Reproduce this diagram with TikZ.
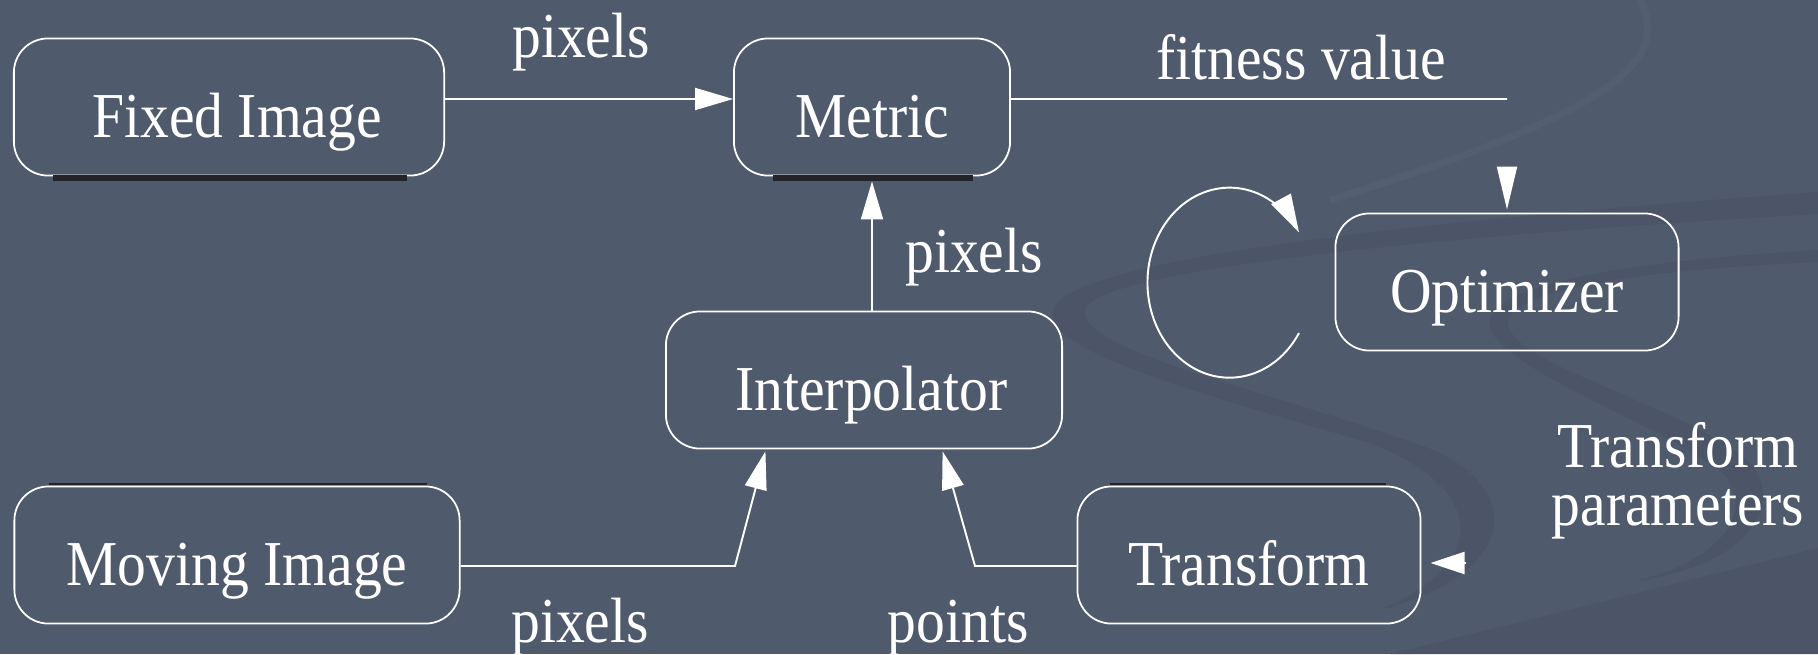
\documentclass[tikz,border=0pt]{standalone}
\usepackage{fontspec}
\setmainfont{Liberation Serif}
\usetikzlibrary{arrows.meta,calc}
\definecolor{bg}{RGB}{80,90,109}
\definecolor{swirldark}{RGB}{76,85,104}
\definecolor{swirllight}{RGB}{84,94,113}
\definecolor{edgedark}{RGB}{35,36,40}
\newcommand\figfont{\fontsize{18.2}{16.4}\selectfont}
\newcommand\narrow[1]{\scalebox{0.9}[1]{#1}}

\begin{document}
\begin{tikzpicture}[x=0.01cm,y=-0.01cm,
  box/.style={draw=white, line width=0.5pt, rounded corners=0.34cm,
    minimum height=1.37cm, inner sep=0pt, text=white,
    text height=0.6cm, text depth=0cm, font=\figfont},
  lbl/.style={text=white, font=\figfont, inner sep=0pt},
  conn/.style={draw=white, line width=0.55pt},
  arr/.style={conn, -{Triangle[length=0.38cm,width=0.22cm]}},
  edgeshade/.style={draw=edgedark, line width=0.06cm},
]
% background and swirl decoration
\fill[bg] (0,0) rectangle (1818,654);
\useasboundingbox (0,0) rectangle (1818,654);
\fill[swirldark] (1818,192) .. controls (1500,215) and (1120,250) .. (1060,300)
  .. controls (1020,340) and (1150,380) .. (1360,440)
  .. controls (1480,480) and (1500,560) .. (1380,610)
  .. controls (1530,570) and (1520,480) .. (1420,445)
  .. controls (1250,385) and (1075,350) .. (1085,308)
  .. controls (1110,265) and (1500,232) .. (1818,214) -- cycle;
\fill[swirldark] (1818,250) .. controls (1650,260) and (1500,280) .. (1490,320)
  .. controls (1480,360) and (1650,420) .. (1720,470)
  .. controls (1760,510) and (1720,560) .. (1640,580)
  .. controls (1750,565) and (1790,500) .. (1745,458)
  .. controls (1680,405) and (1505,362) .. (1508,322)
  .. controls (1512,285) and (1680,268) .. (1818,262) -- cycle;
\fill[swirldark] (1818,548) .. controls (1650,590) and (1480,632) .. (1390,654)
  -- (1818,654) -- cycle;
\draw[swirllight, line width=2pt] (1640,0) .. controls (1670,60) and (1620,110) .. (1330,200);

% blocks
\node[box, minimum width=4.30cm] (fixed) at (229,107) {\narrow{\hspace*{0.18cm}Fixed Image}};
\node[box, minimum width=2.76cm] (metric) at (872,107) {\narrow{Metric}};
\node[box, minimum width=3.43cm] (opt) at (1507,282) {\narrow{Optimizer}};
\node[box, minimum width=3.96cm] (interp) at (864,380) {\narrow{\hspace*{0.16cm}Interpolator}};
\node[box, minimum width=4.45cm] (moving) at (237,555) {\narrow{Moving Image}};
\node[box, minimum width=3.43cm] (transform) at (1249,555) {\narrow{Transform}};

% dark edge shading on some blocks
\draw[edgeshade] ([xshift=0.40cm,yshift=-0.02cm]fixed.south west) -- ([xshift=-0.38cm,yshift=-0.02cm]fixed.south east);
\draw[edgeshade] ([xshift=0.40cm,yshift=-0.02cm]metric.south west) -- ([xshift=-0.38cm,yshift=-0.02cm]metric.south east);
\draw[edgedark, line width=0.025cm] ([xshift=0.35cm,yshift=0.014cm]moving.north west) -- ([xshift=-0.33cm,yshift=0.014cm]moving.north east);
\draw[edgedark, line width=0.025cm] ([xshift=0.33cm,yshift=0.014cm]transform.north west) -- ([xshift=-0.35cm,yshift=0.014cm]transform.north east);

% connectors
\coordinate (fitcorner) at (1507,99);
\coordinate (mvbend) at (735,566);
\coordinate (tfbend) at (975,566);
\coordinate (paramstart) at (1466,563);

\draw[arr] ([yshift=0.08cm]fixed.east) -- ([yshift=0.08cm]metric.west);
\draw[conn] ([yshift=0.08cm]metric.east) -- (fitcorner);
\draw[arr, -{Triangle[length=0.43cm,width=0.2cm]}, shorten >=0.03cm]
  ([yshift=0.46cm]opt.north) -- (opt.north);
\draw[arr, shorten >=0.05cm] (metric.south |- interp.north) -- (metric.south);
\draw[arr, shorten >=0.02cm] ([yshift=-0.11cm]moving.east) -- (mvbend) -- ([xshift=-0.98cm]interp.south);
\draw[arr, shorten >=0.02cm] ([yshift=-0.11cm]transform.west) -- (tfbend) -- ([xshift=0.78cm]interp.south);
\draw[arr] (1299,333) arc[start angle=32, end angle=328, x radius=82, y radius=95];
\draw[arr, -{Triangle[length=0.34cm,width=0.22cm]}, shorten >=0.09cm]
  (paramstart) -- (transform.east |- paramstart);

% labels
\node[lbl, anchor=base] (lpix1) at (581,57) {\narrow{pixels}};
\node[lbl, anchor=base] (lfit) at (1301,79) {\narrow{fitness value}};
\node[lbl, anchor=base] (lpix2) at (974,272) {\narrow{pixels}};
\node[lbl, anchor=base] (lpix3) at (580,642) {\narrow{pixels}};
\node[lbl, anchor=base] (lpts) at (958,642) {\narrow{points}};
\node[lbl, align=center] (lparam) at (1678,481) {\narrow{Transform}\\\narrow{parameters}};
\end{tikzpicture}
\end{document}
